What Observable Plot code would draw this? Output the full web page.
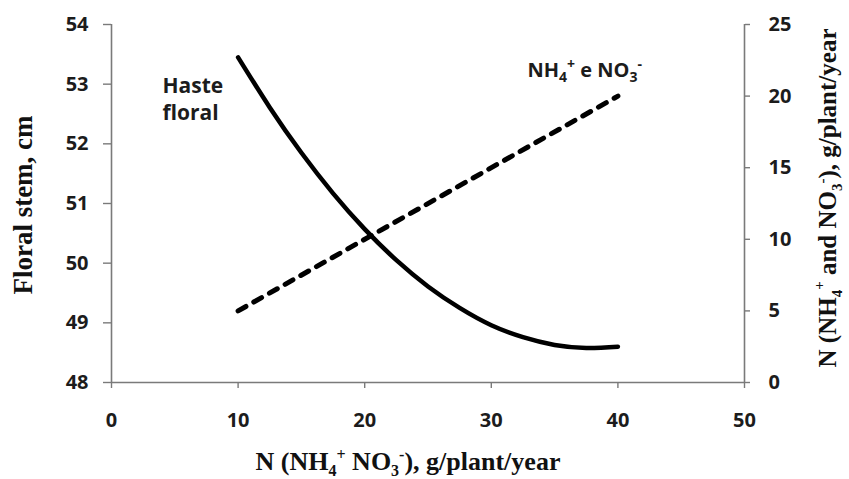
<!DOCTYPE html>
<html>
<head>
<meta charset="utf-8">
<script src="https://cdn.jsdelivr.net/npm/d3@7"></script>
<script src="https://cdn.jsdelivr.net/npm/@observablehq/plot@0.6"></script>
<style>
  html, body { margin: 0; padding: 0; background: #fff; }
  #chart svg { display: block; }
  #chart svg text { font-weight: 700 !important; }
</style>
</head>
<body>
<div id="chart"></div>
<script>
// Haste floral (floral stem length, cm) vs N dose
const nDose = [10, 12.5, 15, 17.5, 20, 22.5, 25, 27.5, 30, 32.5, 35, 37.5, 40];
const stemLength = [53.45, 52.61, 51.85, 51.17, 50.57, 50.05, 49.61, 49.25, 48.96, 48.76, 48.63, 48.58, 48.6];
// NH4+ e NO3- (right axis, g/plant/year)
const nhDose = [10, 40];
const nhValues = [5, 20];
// tick labels
const xTicks = [0, 10, 20, 30, 40, 50];
const leftTicks = [48, 49, 50, 51, 52, 53, 54];
const rightTicks = [0, 5, 10, 15, 20, 25];

const L0 = 48, L1 = 54, R0 = 0, R1 = 25;
const toLeft = v => L0 + (v - R0) * (L1 - L0) / (R1 - R0);
const toRight = d => Math.round(R0 + (d - L0) * (R1 - R0) / (L1 - L0));

const stem = nDose.map((x, i) => ({x, y: stemLength[i]}));
const nh = nhDose.map((x, i) => ({x, y: toLeft(nhValues[i])}));

const axisColor = "#7a7a7a";
const tickFont = "'Open Sans', sans-serif";
const ink = "#1c1c1c";
const tickText = {fontSize: 20, fontWeight: "bold", fontFamily: tickFont, fill: ink, stroke: axisColor, strokeWidth: 1.4, label: null};

const chart = Plot.plot({
  width: 849,
  height: 479,
  marginTop: 24,
  marginBottom: 97,
  marginLeft: 111,
  marginRight: 105,
  style: {fontFamily: tickFont, fontSize: "20px", fontWeight: "bold", color: ink, background: "#fff"},
  x: {domain: [0, 50]},
  y: {domain: [L0, L1]},
  marks: [
    Plot.ruleY([L0], {stroke: axisColor, strokeWidth: 1.6}),
    Plot.ruleX([0], {stroke: axisColor, strokeWidth: 1.6}),
    Plot.ruleX([50], {stroke: axisColor, strokeWidth: 1.6}),
    Plot.axisX(xTicks, {...tickText, anchor: "bottom", tickSize: 6, tickPadding: 24, tickFormat: "d"}),
    Plot.axisY(leftTicks, {...tickText, anchor: "left", tickSize: 8, tickPadding: 15, tickFormat: "d"}),
    Plot.axisY(rightTicks.map(toLeft), {...tickText, anchor: "right", tickSize: 5, tickPadding: 19, tickFormat: toRight}),
    Plot.line(stem, {x: "x", y: "y", curve: "natural", stroke: "#000", strokeWidth: 4.5, strokeLinecap: "round"}),
    Plot.line(nh, {x: "x", y: "y", stroke: "#000", strokeWidth: 5, strokeDasharray: "9,9", strokeLinecap: "round"}),
    Plot.text(["Haste\nfloral"], {x: 4.03, y: 52.77, text: d => d, textAnchor: "start", lineAnchor: "middle", lineHeight: 1.3, fontSize: 21, fontWeight: "bold", fill: ink})
  ]
});

document.getElementById("chart").appendChild(chart);

const sx = chart.scale("x"), sy = chart.scale("y");
const svg = d3.select(chart);

// NH4+ e NO3- label
const lab = svg.append("text")
  .attr("x", sx.apply(32.9)).attr("y", 77)
  .attr("text-anchor", "start")
  .attr("font-family", tickFont).attr("font-size", 20).attr("font-weight", "bold").attr("fill", ink);
lab.append("tspan").text("NH");
lab.append("tspan").attr("font-size", 14).attr("dy", 5).text("4");
lab.append("tspan").attr("font-size", 14).attr("dy", -13).text("+");
lab.append("tspan").attr("dy", 8).text(" e NO");
lab.append("tspan").attr("font-size", 14).attr("dy", 5).text("3");
lab.append("tspan").attr("font-size", 14).attr("dy", -13).text("-");

const serif = "'Liberation Serif', 'Times New Roman', serif";

// x axis title
const xt = svg.append("text")
  .attr("x", 408).attr("y", 470)
  .attr("text-anchor", "middle")
  .attr("font-family", serif).attr("font-size", 26).attr("font-weight", "bold").attr("fill", "#111");
xt.append("tspan").text("N (NH");
xt.append("tspan").attr("font-size", 16).attr("dy", 6).text("4");
xt.append("tspan").attr("font-size", 16).attr("dy", -16).text("+");
xt.append("tspan").attr("dy", 10).text(" NO");
xt.append("tspan").attr("font-size", 16).attr("dy", 6).text("3");
xt.append("tspan").attr("font-size", 16).attr("dy", -16).text("-");
xt.append("tspan").attr("dy", 10).text("), g/plant/year");

// left y title
svg.append("text")
  .attr("transform", `translate(32,205) rotate(-90)`)
  .attr("text-anchor", "middle")
  .attr("font-family", serif).attr("font-size", 27).attr("font-weight", "bold").attr("fill", "#111")
  .text("Floral stem, cm");

// right y title
const rt = svg.append("text")
  .attr("transform", `translate(836,198) rotate(-90)`)
  .attr("text-anchor", "middle")
  .attr("font-family", serif).attr("font-size", 25).attr("font-weight", "bold").attr("fill", "#111");
rt.append("tspan").text("N (NH");
rt.append("tspan").attr("font-size", 15).attr("dy", 6).text("4");
rt.append("tspan").attr("font-size", 15).attr("dy", -18).text("+");
rt.append("tspan").attr("dy", 12).text(" and NO");
rt.append("tspan").attr("font-size", 15).attr("dy", 6).text("3");
rt.append("tspan").attr("font-size", 15).attr("dy", -15).text("-");
rt.append("tspan").attr("dy", 9).text("), g/plant/year");
</script>
</body>
</html>
